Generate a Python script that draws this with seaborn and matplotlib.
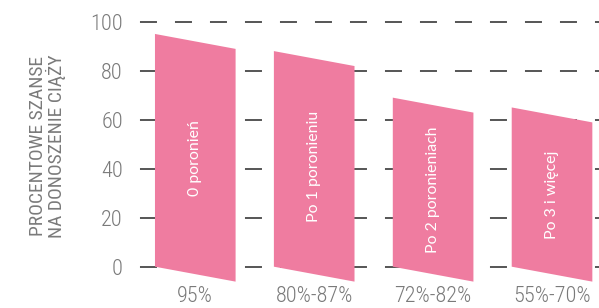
import matplotlib
matplotlib.use('Agg')
import matplotlib.pyplot as plt
from matplotlib import font_manager
from matplotlib.patches import Polygon
import seaborn as sns

categories = ['0 poronień', 'Po 1 poronieniu', 'Po 2 poronieniach', 'Po 3 i więcej']
chances = [95, 88, 69, 65]
range_labels = ['95%', '80%-87%', '72%-82%', '55%-70%']
y_ticks = [0, 20, 40, 60, 80, 100]

PINK = '#ef7ca0'
GREY = '#7a7a7a'
SLANT = 6.1  # drop of the bar's right edge, in y units

names = {f.name for f in font_manager.fontManager.ttflist}
cond = next(n for n in ['Roboto Condensed', 'Liberation Sans Narrow', 'DejaVu Sans Condensed', 'DejaVu Sans'] if n in names)
bar_font = 'Lato' if 'Lato' in names else 'DejaVu Sans'

sns.set_style('white')
plt.rcParams['font.family'] = [cond, 'DejaVu Sans']
plt.rcParams['font.weight'] = 'light'

fig = plt.figure(figsize=(5.99, 3.08), dpi=100)
ax = fig.add_axes([0.2204, 0.0705, 0.7796, 0.8829])

sns.barplot(x=categories, y=chances, color=PINK, width=0.678, saturation=1, ax=ax)

# turn each rectangle into a slanted bar
for patch, label in zip(list(ax.patches), categories):
    x0, w, h = patch.get_x(), patch.get_width(), patch.get_height()
    patch.set_visible(False)
    poly = Polygon([(x0, 0), (x0, h), (x0 + w, h - SLANT), (x0 + w, -SLANT)],
                   closed=True, facecolor=PINK, edgecolor='none', zorder=3, clip_on=False)
    ax.add_patch(poly)
    ax.text(x0 + w / 2, h / 2 - SLANT / 2, label, rotation=90, ha='center', va='center',
            color='white', fontsize=11.4, fontweight='normal',
            family=[bar_font, 'DejaVu Sans'], zorder=4)

ax.set_xlim(-0.532, 3.395)
ax.set_ylim(-8, 103)
ax.set_yticks(y_ticks)
ax.set_xticks(range(len(range_labels)))
ax.set_xticklabels(range_labels)

for y in y_ticks:
    ax.axhline(y, color='#555555', lw=1.4, linestyle=(13.9, (8.74, 9.26)), zorder=1)

for s in ax.spines.values():
    s.set_visible(False)

ax.tick_params(axis='y', length=1.5, width=1.5, color=GREY, pad=5, labelsize=16, labelcolor=GREY)
ax.tick_params(axis='x', length=0, pad=0, labelsize=16, labelcolor=GREY)

ax.set_xlabel('')
ax.set_ylabel('PROCENTOWE SZANSE\nNA DONOSZENIE CIĄŻY', color=GREY, fontsize=14,
              linespacing=0.95)
ax.yaxis.set_label_coords(-0.141, 0.516)

fig.savefig('out.png', dpi=100)
